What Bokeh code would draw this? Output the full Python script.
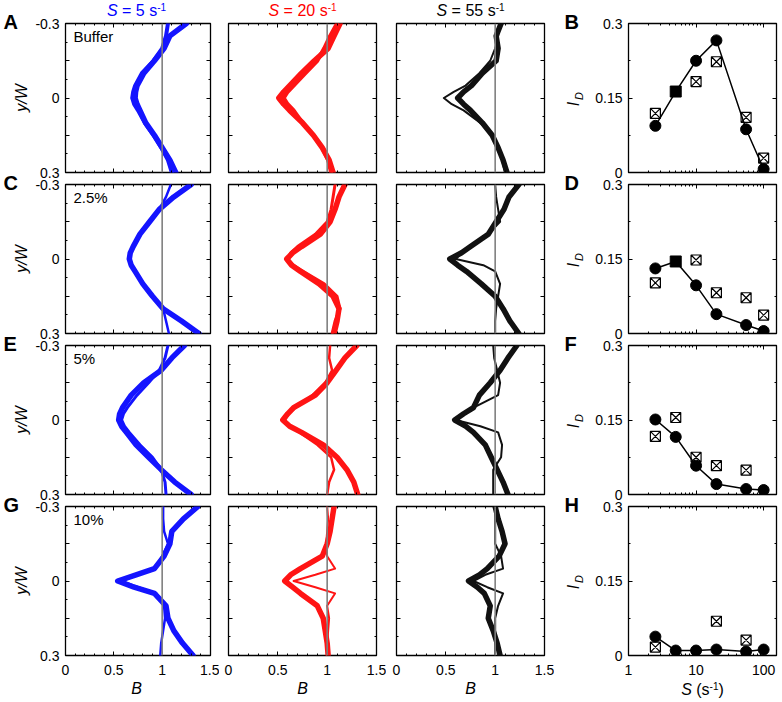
from math import pi
import numpy as np
from bokeh.plotting import figure
from bokeh.models import Range1d, LinearAxis, FixedTicker, Label, Span, ColumnDataSource
from bokeh.core.properties import field
from bokeh.layouts import column, row
from bokeh.embed import file_html
from bokeh.resources import INLINE

# ---------------- data ----------------
Y_POS = [-0.3, -0.25, -0.2, -0.15, -0.1, -0.05, -0.025, 0, 0.025, 0.05, 0.1, 0.15, 0.2, 0.25, 0.3]

# Buffer
BUF_S5_1 = [1.25, 1.08, 1.02, 0.92, 0.81, 0.74, 0.725, 0.72, 0.74, 0.77, 0.83, 0.92, 1.00, 1.08, 1.14]
BUF_S5_2 = [1.06, 1.04, 1.00, 0.91, 0.79, 0.72, 0.70, 0.69, 0.71, 0.75, 0.82, 0.91, 0.99, 1.06, 1.10]
BUF_S20_1 = [1.13, 1.07, 1.01, 0.87, 0.74, 0.62, 0.56, 0.51, 0.56, 0.62, 0.75, 0.86, 0.95, 1.02, 1.06]
BUF_S20_2 = [1.10, 1.03, 0.97, 0.90, 0.78, 0.66, 0.60, 0.56, 0.60, 0.66, 0.75, 0.86, 0.95, 1.01, 1.04]
BUF_S55_1 = [1.06, 1.01, 1.03, 1.01, 0.87, 0.76, 0.68, 0.62, 0.68, 0.75, 0.87, 0.97, 1.03, 1.08, 1.12]
BUF_S55_2 = [1.04, 1.03, 1.00, 0.95, 0.84, 0.70, 0.58, 0.48, 0.56, 0.68, 0.85, 0.96, 1.02, 1.07, 1.10]
# 2.5 %
P25_S5_1 = [1.30, 1.12, 0.97, 0.87, 0.77, 0.70, 0.67, 0.66, 0.68, 0.72, 0.80, 0.90, 1.01, 1.20, 1.38]
P25_S5_2 = [1.09, 1.04, 0.97, 0.87, 0.77, 0.70, 0.67, 0.66, 0.68, 0.72, 0.80, 0.90, 1.01, 1.04, 1.07]
P25_S20_1 = [1.18, 1.12, 1.08, 1.03, 0.93, 0.74, 0.65, 0.59, 0.64, 0.73, 0.92, 1.06, 1.12, 1.10, 1.07]
P25_S20_2 = [1.08, 1.06, 1.04, 1.00, 0.88, 0.70, 0.63, 0.60, 0.66, 0.76, 0.97, 1.10, 1.13, 1.08, 1.05]
P25_S55_1 = [1.24, 1.14, 1.09, 1.01, 0.93, 0.75, 0.66, 0.54, 0.62, 0.71, 0.86, 1.00, 1.08, 1.15, 1.24]
P25_S55_2 = [1.00, 1.01, 1.03, 1.05, 0.93, 0.75, 0.66, 0.60, 0.88, 1.00, 1.05, 1.03, 1.01, 1.00, 1.00]
# 5 %
P5_S5_1 = [1.23, 1.10, 0.99, 0.81, 0.68, 0.59, 0.56, 0.55, 0.58, 0.63, 0.73, 0.86, 0.99, 1.13, 1.30]
P5_S5_2 = [1.06, 1.03, 0.97, 0.86, 0.74, 0.64, 0.60, 0.58, 0.61, 0.66, 0.77, 0.90, 0.99, 1.03, 1.04]
P5_S20_1 = [1.30, 1.18, 1.09, 1.00, 0.88, 0.66, 0.60, 0.55, 0.62, 0.74, 0.96, 1.10, 1.20, 1.27, 1.31]
P5_S20_2 = [1.03, 1.02, 1.05, 0.98, 0.85, 0.68, 0.61, 0.57, 0.62, 0.72, 0.90, 1.04, 1.07, 1.02, 1.00]
P5_S55_1 = [1.22, 1.13, 1.05, 0.95, 0.84, 0.78, 0.68, 0.59, 0.70, 0.78, 0.90, 0.96, 1.02, 1.08, 1.13]
P5_S55_2 = [0.98, 0.99, 1.02, 1.05, 1.03, 0.78, 0.66, 0.60, 0.85, 1.03, 1.07, 1.06, 0.98, 0.98, 0.98]
# 10 %
P10_S5_1 = [1.37, 1.22, 1.10, 1.08, 1.02, 0.92, 0.73, 0.54, 0.71, 0.92, 1.04, 1.06, 1.12, 1.21, 1.32]
P10_S5_2 = [1.01, 1.01, 1.02, 1.06, 1.00, 0.93, 0.75, 0.58, 0.75, 0.94, 1.02, 1.03, 1.01, 0.99, 0.98]
P10_S20_1 = [1.07, 1.05, 1.03, 1.00, 0.95, 0.73, 0.63, 0.57, 0.65, 0.73, 0.90, 0.96, 0.98, 1.00, 1.01]
P10_S20_2 = [1.00, 1.01, 1.00, 0.99, 1.00, 1.08, 0.88, 0.66, 0.88, 1.08, 1.00, 1.02, 1.01, 1.00, 1.00]
P10_S55_1 = [1.00, 1.03, 1.07, 1.10, 1.04, 0.92, 0.84, 0.73, 0.82, 0.89, 0.95, 0.93, 0.98, 1.02, 1.05]
P10_S55_2 = [1.00, 1.00, 1.00, 1.00, 1.06, 1.08, 0.90, 0.78, 0.92, 1.08, 1.03, 1.00, 1.00, 1.00, 1.00]

REF_B = 1.0

S_RATES = [2.5, 5, 10, 20, 55, 100]
NAN = float("nan")
ID_BUF_FILLED = [0.094, 0.163, 0.225, 0.266, 0.087, 0.007]
ID_BUF_OPEN = [0.119, NAN, 0.183, 0.223, 0.111, 0.029]
ID_P25_FILLED = [0.131, 0.145, 0.097, 0.039, 0.017, 0.005]
ID_P25_OPEN = [0.102, NAN, 0.148, 0.082, 0.072, 0.037]
ID_P5_FILLED = [0.151, 0.116, 0.058, 0.021, 0.011, 0.009]
ID_P5_OPEN = [0.117, 0.155, 0.075, 0.058, 0.049, NAN]
ID_P10_FILLED = [0.038, 0.010, 0.010, 0.012, 0.008, 0.012]
ID_P10_OPEN = [0.017, NAN, NAN, 0.069, 0.031, NAN]
MARKERS_SQ5 = ["circle", "square", "circle", "circle", "circle", "circle"]
MARKERS_ALL = ["circle", "circle", "circle", "circle", "circle", "circle"]

ROW_NAMES = ["Buffer", "2.5%", "5%", "10%"]
LEFT_LETTERS = ["A", "C", "E", "G"]
RIGHT_LETTERS = ["B", "D", "F", "H"]
COL_RATES = ["5", "20", "55"]

B_TICKS = [0, 0.5, 1, 1.5]
B_MINOR = [0.1, 0.2, 0.3, 0.4, 0.6, 0.7, 0.8, 0.9, 1.1, 1.2, 1.3, 1.4]
YW_TICKS = [-0.3, -0.15, 0, 0.15, 0.3]
YW_MINOR = [-0.225, -0.075, 0.075, 0.225]
YW_LABELS = {-0.3: "-0.3", -0.15: "", 0: "0", 0.15: "", 0.3: "0.3"}
ID_TICKS = [0, 0.15, 0.3]
ID_MINOR = [0.075, 0.225]
ID_LABELS = {0: "0", 0.15: "0.15", 0.3: "0.3"}
S_TICKS = [1, 10, 100]
S_MINOR = [2, 3, 4, 5, 6, 7, 8, 9, 20, 30, 40, 50, 60, 70, 80, 90]
S_LABELS = {1: "1", 10: "10", 100: "100"}

PROFILES = [
    [(BUF_S5_1, BUF_S5_2), (BUF_S20_1, BUF_S20_2), (BUF_S55_1, BUF_S55_2)],
    [(P25_S5_1, P25_S5_2), (P25_S20_1, P25_S20_2), (P25_S55_1, P25_S55_2)],
    [(P5_S5_1, P5_S5_2), (P5_S20_1, P5_S20_2), (P5_S55_1, P5_S55_2)],
    [(P10_S5_1, P10_S5_2), (P10_S20_1, P10_S20_2), (P10_S55_1, P10_S55_2)],
]
ID_DATA = [
    (ID_BUF_FILLED, ID_BUF_OPEN, MARKERS_SQ5),
    (ID_P25_FILLED, ID_P25_OPEN, MARKERS_SQ5),
    (ID_P5_FILLED, ID_P5_OPEN, MARKERS_ALL),
    (ID_P10_FILLED, ID_P10_OPEN, MARKERS_ALL),
]

# ---------------- style / layout ----------------
FONT = "Liberation Sans"
COLORS = ["#1414ff", "#ff1414", "#111111"]
TEXT_COLORS = ["#0000ff", "#ff0000", "#000000"]
SECOND_W = [[4, 4, 2], [2.5, 3, 2], [3, 2.5, 2], [2.5, 2, 2]]
FRAME_W, FRAME_H = 148, 149
PAGE_H = 700
LEFT_STRIP = 32
MID_STRIP = 34
COL_L = [30, 9, 10, 40]
COL_R = [9, 10, 10, 4]
HEADER_H = 22
MAIN_TOP = 13
FOOTER_H = 26
FOOTER_OVERLAP = 8
ROW_T = [10, 14, 14, 14]
ROW_B = [14, 14, 14, 27]
ROW_OVERLAP = 16

COL_W = [COL_L[c] + FRAME_W + COL_R[c] for c in range(4)]
ROW_H = [ROW_T[r] + FRAME_H + ROW_B[r] for r in range(4)]
col_start = [LEFT_STRIP, LEFT_STRIP + COL_W[0], LEFT_STRIP + COL_W[0] + COL_W[1],
             LEFT_STRIP + COL_W[0] + COL_W[1] + COL_W[2] + MID_STRIP]
MID_X0 = LEFT_STRIP + COL_W[0] + COL_W[1] + COL_W[2]
FRAME_X = [col_start[c] + COL_L[c] for c in range(4)]
FRAME_Y = []
_y = MAIN_TOP
for _r in range(4):
    if _r > 0:
        _y -= ROW_OVERLAP
    FRAME_Y.append(_y + ROW_T[_r])
    _y += ROW_H[_r]
MAIN_BOTTOM = _y

ARIAL = {' ': 278, '=': 584, '-': 333, '(': 333, ')': 333, 's': 500, 'S': 667}


def tw(text, size):
    return sum(ARIAL.get(ch, 556) for ch in text) * size / 1000.0


def no_grid(p):
    for g in p.grid:
        g.visible = False


def transparent(p):
    p.background_fill_color = None
    p.border_fill_color = None


def strip(w, h, **kw):
    p = figure(width=w, height=h, x_range=Range1d(0, w), y_range=Range1d(0, h),
               x_axis_location=None, y_axis_location=None,
               output_backend="svg", toolbar_location=None, tools="", **kw)
    p.min_border_left = p.min_border_right = p.min_border_top = p.min_border_bottom = 0
    p.outline_line_color = None
    transparent(p)
    no_grid(p)
    return p


def lab(p, x, y, text, size, style="normal", color="black", align="left", baseline="middle",
        angle=0):
    p.add_layout(Label(x=x, y=y, text=text, text_font=FONT, text_font_size=f"{size}px",
                       text_font_style=style, text_color=color, text_align=align,
                       text_baseline=baseline, angle=angle))


def rich(p, cx, ymid, pieces, color):
    total = sum(tw(t, s) for t, s, _, _ in pieces)
    x = cx - total / 2.0
    for t, s, st, rise in pieces:
        stripped = t.lstrip(" ")
        lead = tw(t[:len(t) - len(stripped)], s)
        lab(p, x + lead, ymid + rise, stripped, s, st, color)
        x += tw(t, s)


def style_axis(ax, ticker, show, overrides=None):
    ax.ticker = ticker
    ax.axis_line_color = None
    ax.major_tick_in = 4
    ax.major_tick_out = 0
    ax.minor_tick_in = 2
    ax.minor_tick_out = 0
    ax.major_tick_line_color = "black"
    ax.minor_tick_line_color = "black"
    if show:
        ax.major_label_text_font = FONT
        ax.major_label_text_font_size = "14px"
        ax.major_label_text_color = "black"
        if overrides:
            ax.major_label_overrides = overrides
    else:
        ax.major_label_text_color = None
        ax.major_label_standoff = 0


# header strip over columns 1-3 (page y 0..HEADER_H)
W123 = COL_W[0] + COL_W[1] + COL_W[2]
header = strip(W123, HEADER_H)
for c in range(3):
    cx = FRAME_X[c] + FRAME_W / 2.0 - LEFT_STRIP
    rich(header, cx, HEADER_H - 10,
         [("S", 16, "italic", 0), (" = " + COL_RATES[c] + " s", 16, "normal", 0),
          ("-1", 10, "normal", 4)], TEXT_COLORS[c])

# footers (page y PAGE_H-FOOTER_H..PAGE_H)
footer123 = strip(W123, FOOTER_H, margin=(-FOOTER_OVERLAP, 0, 0, 0))
for c in range(3):
    lab(footer123, FRAME_X[c] + FRAME_W / 2.0 - LEFT_STRIP, PAGE_H - 688, "B", 16, "italic",
        align="center")
footer4 = strip(COL_W[3], FOOTER_H, margin=(-FOOTER_OVERLAP, 0, 0, 0))
rich(footer4, COL_L[3] + FRAME_W / 2.0, PAGE_H - 689,
     [("S", 16, "italic", 0), (" (s", 16, "normal", 0), ("-1", 10, "normal", 4),
      (")", 16, "normal", 0)], "black")

# full-height strips: panel letters, y/W and I_D
left_strip = strip(LEFT_STRIP, PAGE_H)
mid_strip = strip(MID_STRIP, PAGE_H)
for r in range(4):
    top = FRAME_Y[r]
    mid = top + FRAME_H / 2.0
    lab(left_strip, 3, PAGE_H - (top - 2), LEFT_LETTERS[r], 20, "bold")
    lab(left_strip, 21, PAGE_H - mid, "y/W", 16, "italic", align="center", angle=pi / 2)
    lab(mid_strip, 564 - MID_X0, PAGE_H - (top - 2), RIGHT_LETTERS[r], 20, "bold")
    lab(mid_strip, 573 - MID_X0, PAGE_H - (mid + 6), "I", 16, "italic", align="center",
        angle=pi / 2)
    lab(mid_strip, 578.5 - MID_X0, PAGE_H - (mid - 2), "D", 11, "italic", align="center",
        angle=pi / 2)

cols = [[], [], [], []]
for r in range(4):
    for c in range(4):
        w, h = COL_W[c], ROW_H[r]
        mg = (-ROW_OVERLAP if r > 0 else 0, 0, 0, 0)
        if c < 3:
            p = figure(width=w, height=h, x_range=Range1d(0, 1.5), y_range=Range1d(0.3, -0.3),
                       x_axis_location=None, y_axis_location=None, margin=mg,
                       output_backend="svg", toolbar_location=None, tools="")
        else:
            p = figure(width=w, height=h, x_range=Range1d(1, 155), y_range=Range1d(0, 0.3),
                       x_axis_type="log", x_axis_location=None, y_axis_location=None, margin=mg,
                       output_backend="svg", toolbar_location=None, tools="")
        no_grid(p)
        transparent(p)
        p.min_border_left = COL_L[c]
        p.min_border_right = COL_R[c]
        p.min_border_top = ROW_T[r]
        p.min_border_bottom = ROW_B[r]
        p.outline_line_color = "black"
        p.outline_line_width = 1.3

        if c < 3:
            xt = FixedTicker(ticks=B_TICKS, minor_ticks=B_MINOR)
            yt = FixedTicker(ticks=YW_TICKS, minor_ticks=YW_MINOR)
            yo, xo = YW_LABELS, None
        else:
            xt = FixedTicker(ticks=S_TICKS, minor_ticks=S_MINOR)
            yt = FixedTicker(ticks=ID_TICKS, minor_ticks=ID_MINOR)
            yo, xo = ID_LABELS, S_LABELS
        bottom = LinearAxis()
        style_axis(bottom, xt, r == 3, xo)
        if r == 3:
            bottom.major_label_standoff = 9
        top = LinearAxis()
        style_axis(top, FixedTicker(ticks=xt.ticks, minor_ticks=xt.minor_ticks), False)
        left = LinearAxis()
        style_axis(left, yt, c in (0, 3), yo)
        if c in (0, 3):
            left.major_label_standoff = 6
        right = LinearAxis()
        style_axis(right, FixedTicker(ticks=yt.ticks, minor_ticks=yt.minor_ticks), False)
        p.add_layout(bottom, "below")
        p.add_layout(top, "above")
        p.add_layout(left, "left")
        p.add_layout(right, "right")

        if c < 3:
            first, second = PROFILES[r][c]
            p.line(x=second, y=Y_POS, line_width=SECOND_W[r][c], line_color=COLORS[c],
                   line_join="round", line_cap="round")
            p.line(x=first, y=Y_POS, line_width=5.5, line_color=COLORS[c],
                   line_join="round", line_cap="round")
            p.add_layout(Span(location=REF_B, dimension="height", line_color="#808080",
                              line_width=1.6))
            if c == 0:
                p.add_layout(Label(x=0, y=-0.3, x_offset=8, y_offset=-13, text=ROW_NAMES[r],
                                   text_font=FONT, text_font_size="15px", text_color="black",
                                   text_align="left", text_baseline="middle"))
        else:
            filled, opened, marks = ID_DATA[r]
            ox = [s for s, v in zip(S_RATES, opened) if not np.isnan(v)]
            oy = [v for v in opened if not np.isnan(v)]
            p.scatter(x=ox, y=oy, marker="square_x", size=10, fill_color="white",
                      line_color="black", line_width=1.2)
            p.line(x=S_RATES, y=filled, line_color="black", line_width=1.5)
            src = ColumnDataSource(dict(x=S_RATES, y=filled, m=marks))
            p.scatter(x="x", y="y", marker=field("m"), size=11, fill_color="black",
                      line_color="black", source=src)
        cols[c].append(p)

grid123 = row(column(*cols[0]), column(*cols[1]), column(*cols[2]),
              margin=(MAIN_TOP - HEADER_H, 0, 0, 0))
block123 = column(header, grid123, footer123)
col4 = column(*cols[3], margin=(MAIN_TOP, 0, 0, 0))
block4 = column(col4, footer4)
page = row(left_strip, block123, mid_strip, block4)
open("out.html", "w").write(file_html(page, INLINE))
